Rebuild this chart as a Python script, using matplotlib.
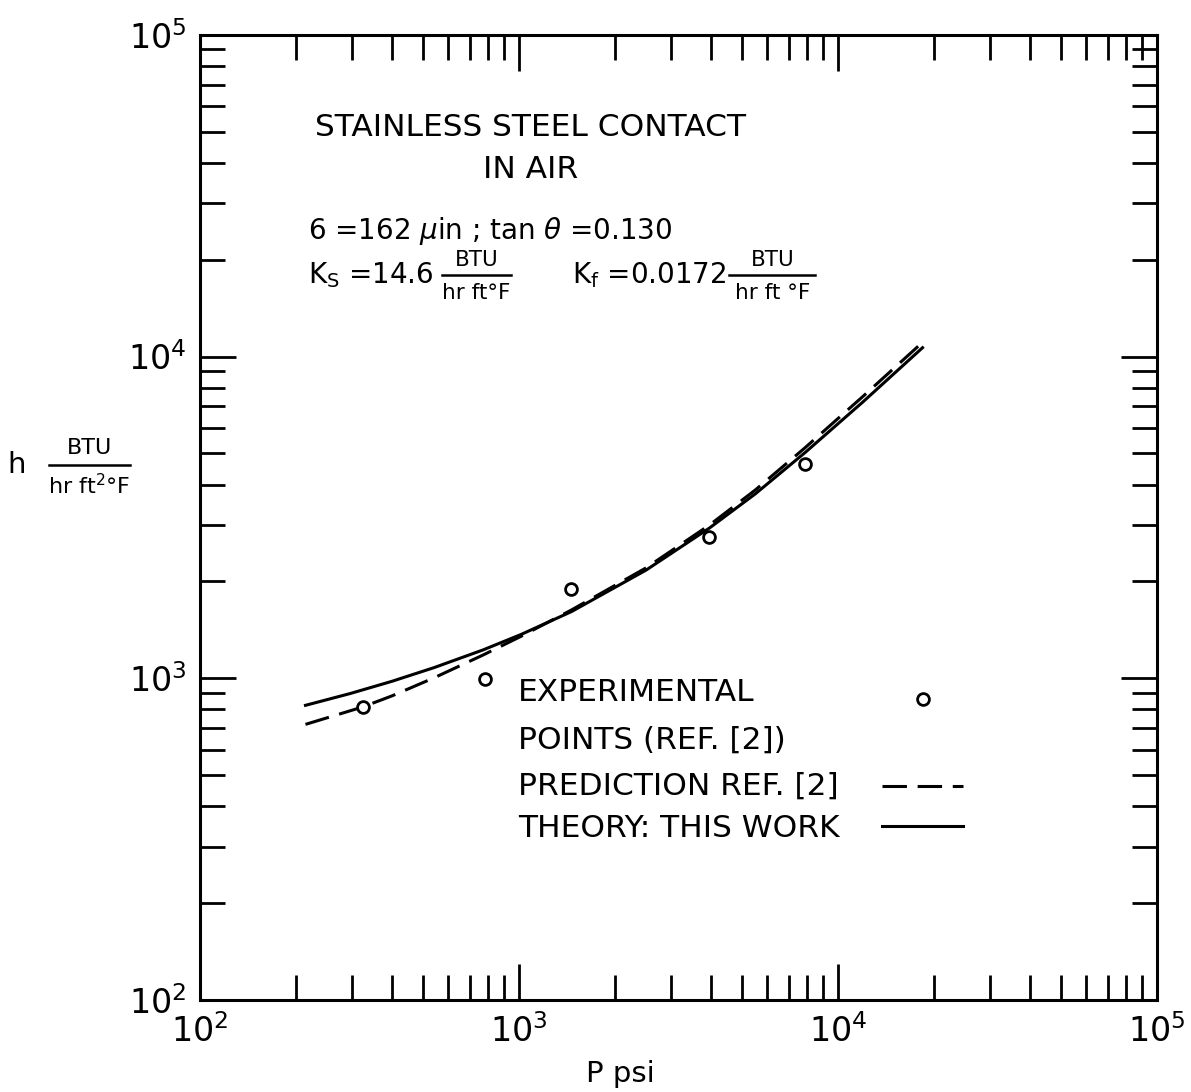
import math
import matplotlib.pyplot as plt
from matplotlib.lines import Line2D
from matplotlib.ticker import LogLocator, FuncFormatter, NullFormatter

# Data
EXP_P = [323, 781, 1459, 3953, 7870]
EXP_H = [813, 993, 1888, 2742, 4624]

THEORY_P = [214, 296, 400, 541, 771, 1014, 1459, 2500, 3953, 5500, 7870, 12000, 18400]
THEORY_H = [824, 897, 979, 1079, 1225, 1368, 1611, 2168, 2931, 3741, 5023, 7244, 10650]

PRED_P = [214, 323, 400, 541, 771, 1014, 1459, 2500, 3953, 5500, 7870, 12000, 18400]
PRED_H = [719, 814, 882, 1003, 1181, 1350, 1630, 2203, 2994, 3846, 5200, 7534, 11070]

LEGEND_LABELS = ["EXPERIMENTAL", "POINTS (REF. [2])", "PREDICTION REF. [2]", "THEORY: THIS WORK"]

plt.rcParams["font.family"] = "DejaVu Sans"
plt.rcParams["mathtext.fontset"] = "dejavusans"

fig = plt.figure(figsize=(11.91, 10.92), dpi=100)
ax = fig.add_axes([0.168, 0.0842, 0.8035, 0.884])

ax.set_xscale("log")
ax.set_yscale("log")
ax.set_xlim(1e2, 1e5)
ax.set_ylim(1e2, 1e5)

DASH = (0, (8, 3.5))
ax.plot(THEORY_P, THEORY_H, "-", color="black", lw=2.2)
ax.plot(PRED_P, PRED_H, color="black", lw=2.2, linestyle=DASH)
ax.plot(EXP_P, EXP_H, "o", color="black", mfc="white", mew=2, ms=8.5)

for s in ax.spines.values():
    s.set_linewidth(2.2)

ax.xaxis.set_major_locator(LogLocator(base=10))
ax.yaxis.set_major_locator(LogLocator(base=10))
ax.xaxis.set_minor_locator(LogLocator(base=10, subs=range(2, 10)))
ax.yaxis.set_minor_locator(LogLocator(base=10, subs=range(2, 10)))
fmt = FuncFormatter(lambda v, pos: r"$10^{%d}$" % round(math.log10(v)))
ax.xaxis.set_major_formatter(fmt)
ax.yaxis.set_major_formatter(fmt)
ax.xaxis.set_minor_formatter(NullFormatter())
ax.yaxis.set_minor_formatter(NullFormatter())
ax.tick_params(which="both", direction="in", top=True, right=True, width=2, labelsize=24)
ax.tick_params(which="major", length=26, pad=10)
ax.tick_params(which="minor", length=18)

# Annotations inside the plot
ax.text(0.345, 0.904, "STAINLESS STEEL CONTACT", transform=ax.transAxes,
        ha="center", va="center", fontsize=22.5)
ax.text(0.345, 0.86, "IN AIR", transform=ax.transAxes,
        ha="center", va="center", fontsize=22.5)
ax.text(0.113, 0.797, r"6 =162 $\mu$in ; tan $\theta$ =0.130", transform=ax.transAxes,
        ha="left", va="center", fontsize=20)
ax.text(0.113, 0.751, r"K$_\mathrm{S}$ =14.6", transform=ax.transAxes,
        ha="left", va="center", fontsize=20)
ax.text(0.389, 0.751, r"K$_\mathrm{f}$ =0.0172", transform=ax.transAxes,
        ha="left", va="center", fontsize=20)


def fraction(x, y, num, den, half_width, size=16, transform=ax.transAxes, artist=ax):
    artist.text(x, y + 0.016, num, transform=transform, ha="center", va="center", fontsize=size)
    artist.text(x, y - 0.019, den, transform=transform, ha="center", va="center", fontsize=size)
    artist.add_artist(Line2D([x - half_width, x + half_width], [y, y],
                             transform=transform, color="black", lw=1.8))


fraction(0.289, 0.751, "BTU", "hr ft°F", 0.036, size=15.5)
fraction(0.598, 0.751, "BTU", "hr ft °F", 0.045, size=15.5)

# Hand drawn legend
ys = [0.319, 0.269, 0.222, 0.178]
for label, y in zip(LEGEND_LABELS, ys):
    ax.text(0.332, y, label, transform=ax.transAxes, ha="left", va="center", fontsize=22.5)
ax.add_artist(Line2D([0.755], [0.312], transform=ax.transAxes, marker="o", color="black",
                     mfc="white", mew=2, ms=8.5, linestyle="none"))
ax.add_artist(Line2D([0.713, 0.797], [0.222, 0.222], transform=ax.transAxes, color="black",
                     lw=2.2, linestyle=DASH))
ax.add_artist(Line2D([0.713, 0.797], [0.180, 0.180], transform=ax.transAxes, color="black",
                     lw=2.2))

# Axis labels
ax.set_xlabel("P psi", fontsize=21)
ax.xaxis.set_label_coords(0.439, -0.062)
fig.text(0.014, 0.574, "h", ha="center", va="center", fontsize=21)
fraction(0.075, 0.574, "BTU", r"hr ft$^{2}$°F", 0.034, size=16,
         transform=fig.transFigure, artist=fig)

fig.savefig("out.png", dpi=100)
